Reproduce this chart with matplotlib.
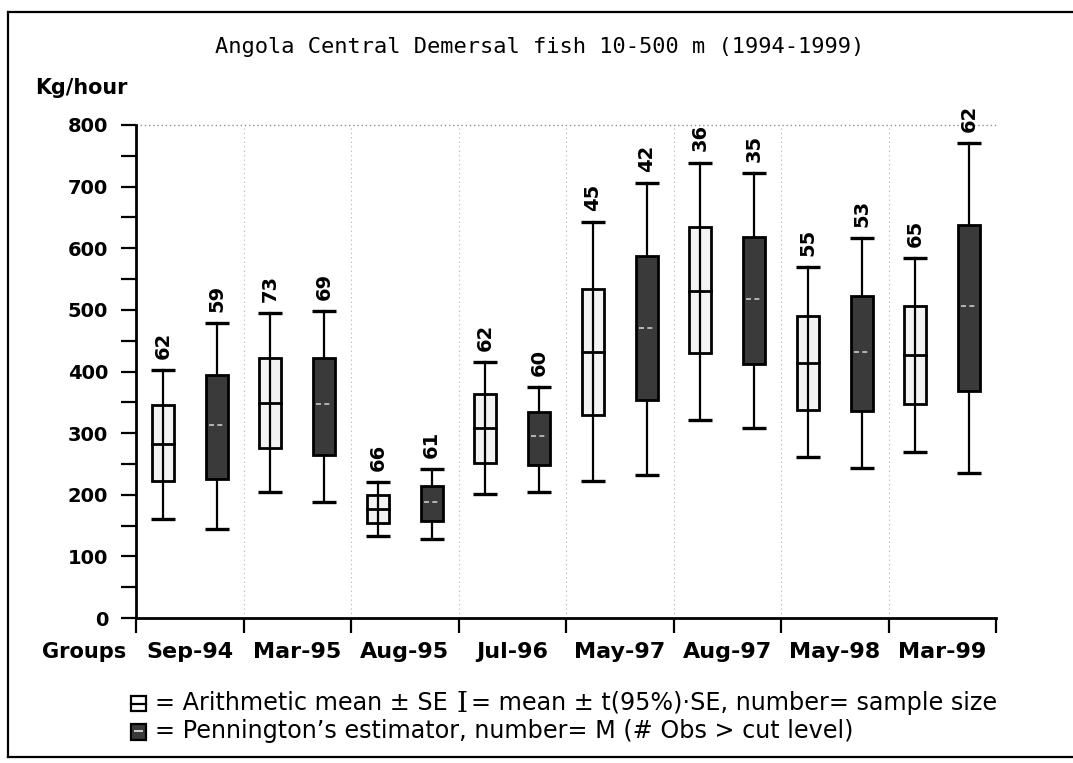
import matplotlib
matplotlib.use("Agg")
import matplotlib.pyplot as plt
from matplotlib.patches import Rectangle
from matplotlib.lines import Line2D
from matplotlib.ticker import MultipleLocator

# ---- data ----
categories = ['Sep-94', 'Mar-95', 'Aug-95', 'Jul-96', 'May-97', 'Aug-97', 'May-98', 'Mar-99']

arith_mean = [283, 349, 177, 309, 431, 531, 414, 426]
arith_se_lo = [222, 276, 154, 252, 330, 430, 338, 347]
arith_se_hi = [345, 422, 200, 364, 534, 634, 490, 507]
arith_ci_lo = [161, 204, 133, 202, 222, 322, 262, 269]
arith_ci_hi = [403, 495, 220, 416, 642, 739, 569, 584]
arith_n = [62, 73, 66, 62, 45, 36, 55, 65]

penn_mean = [313, 347, 188, 295, 470, 518, 432, 506]
penn_se_lo = [226, 265, 157, 248, 354, 412, 336, 369]
penn_se_hi = [395, 422, 215, 334, 587, 618, 523, 637]
penn_ci_lo = [145, 188, 129, 205, 232, 308, 243, 235]
penn_ci_hi = [479, 498, 241, 375, 706, 722, 617, 771]
penn_m = [59, 69, 61, 60, 42, 35, 53, 62]

title = 'Angola Central Demersal fish 10-500 m (1994-1999)'
ylabel = 'Kg/hour'
xlabel = 'Groups'
legend1a = '= Arithmetic mean \u00b1 SE'
legend1b = '= mean \u00b1 t(95%)\u00b7SE, number= sample size'
legend2 = '= Pennington\u2019s estimator, number= M (# Obs > cut level)'

W, H = 1073, 763
fig = plt.figure(figsize=(W / 100, H / 100), dpi=100)
fig.patch.set_facecolor('white')
renderer = fig.canvas.get_renderer()


def fx(px):
    return px / W


def fy(py):
    return 1 - py / H


def fit_text(s, x0, x1, y, family, weight='normal', size0=14):
    t = fig.text(fx(x0), fy(y), s, ha='left', va='center', fontsize=size0,
                 family=family, fontweight=weight)
    w = t.get_window_extent(renderer).width
    t.set_fontsize(size0 * (x1 - x0) / w)
    return t


ax = fig.add_axes([fx(136), fy(618), fx(996) - fx(136), fy(125) - fy(618)])
ax.set_xlim(0, 8)
ax.set_ylim(0, 800)

BW = 0.205
DARK = '#3a3a3a'
LIGHT = '#f3f3f3'
MONO = 'DejaVu Sans Mono'

for i in range(len(categories)):
    # arithmetic (white) box
    x = i + 0.25
    ax.plot([x, x], [arith_ci_lo[i], arith_ci_hi[i]], color='black', lw=1.6, zorder=2)
    ax.add_patch(Rectangle((x - BW / 2, arith_se_lo[i]), BW, arith_se_hi[i] - arith_se_lo[i],
                           facecolor=LIGHT, edgecolor='black', lw=2, zorder=3))
    ax.plot([x, x], [arith_se_lo[i], arith_se_hi[i]], color='black', lw=1.6, zorder=4)
    ax.plot([x - BW / 2, x + BW / 2], [arith_mean[i]] * 2, color='black', lw=2, zorder=4)
    for v in (arith_ci_lo[i], arith_ci_hi[i]):
        ax.plot([x - BW / 2 - 0.01, x + BW / 2 + 0.01], [v, v], color='black', lw=2.4,
                zorder=4, solid_capstyle='butt')
    ax.annotate(str(arith_n[i]), (x, arith_ci_hi[i]), xytext=(0, 8), textcoords='offset points',
                rotation=90, ha='center', va='bottom', fontsize=14, fontweight='bold',
                family='DejaVu Sans', zorder=5)

    # Pennington (dark) box
    x = i + 0.75
    ax.plot([x, x], [penn_ci_lo[i], penn_ci_hi[i]], color='black', lw=1.6, zorder=2)
    ax.add_patch(Rectangle((x - BW / 2, penn_se_lo[i]), BW, penn_se_hi[i] - penn_se_lo[i],
                           facecolor=DARK, edgecolor='black', lw=2, zorder=3))
    ax.plot([x - BW / 2 + 0.03, x + BW / 2 - 0.03], [penn_mean[i]] * 2, color='#c8c8c8',
            lw=1.2, ls=(0, (3, 2)), zorder=4)
    for v in (penn_ci_lo[i], penn_ci_hi[i]):
        ax.plot([x - BW / 2 - 0.01, x + BW / 2 + 0.01], [v, v], color='black', lw=2.4,
                zorder=4, solid_capstyle='butt')
    ax.annotate(str(penn_m[i]), (x, penn_ci_hi[i]), xytext=(0, 8), textcoords='offset points',
                rotation=90, ha='center', va='bottom', fontsize=14, fontweight='bold',
                family='DejaVu Sans', zorder=5)

# dotted group separators and frame
for b in range(1, len(categories) + 1):
    ax.axvline(b, color='#b0b0b0', lw=0.8, ls=(0, (1, 3)), zorder=1)
ax.axhline(800, color='#909090', lw=1.0, ls=(0, (1, 2)), zorder=1, clip_on=False)

for s in ('top', 'right'):
    ax.spines[s].set_visible(False)
ax.spines['left'].set_linewidth(2)
ax.spines['bottom'].set_linewidth(2)

ax.yaxis.set_major_locator(MultipleLocator(100))
ax.yaxis.set_minor_locator(MultipleLocator(50))
ax.set_xticks(range(len(categories) + 1))
ax.set_xticks([i + 0.5 for i in range(len(categories))], minor=True)
ax.set_xticklabels([''] * (len(categories) + 1))
ax.set_xticklabels(categories, minor=True)
ax.tick_params(axis='x', which='major', direction='out', length=11, width=1.6)
ax.tick_params(axis='x', which='minor', length=0, pad=17)
ax.tick_params(axis='y', which='both', direction='out', length=11, width=1.6, pad=9)
for lab in ax.get_yticklabels():
    lab.set_fontsize(14)
    lab.set_fontweight('bold')
    lab.set_family('DejaVu Sans')
for lab in ax.get_xticklabels(minor=True):
    lab.set_fontsize(16)
    lab.set_fontweight('bold')
    lab.set_family('DejaVu Sans')

# texts
fit_text(title, 215, 870, 47, MONO, size0=15)
fit_text(ylabel, 35, 128, 88, 'DejaVu Sans', weight='bold', size0=15)
fit_text(xlabel, 42, 127, 652, 'DejaVu Sans', weight='bold', size0=15)

# legend
y1, y2 = 703, 731
fig.add_artist(Rectangle((fx(131), fy(711)), fx(146) - fx(131), fy(696) - fy(711),
                         facecolor='white', edgecolor='black', lw=1.6, transform=fig.transFigure))
fig.add_artist(Line2D([fx(131), fx(146)], [fy(703.5)] * 2, color='black', lw=1.6,
                      transform=fig.transFigure))
fig.add_artist(Rectangle((fx(131), fy(740)), fx(146) - fx(131), fy(724) - fy(740),
                         facecolor=DARK, edgecolor='black', lw=1.6, transform=fig.transFigure))
fig.add_artist(Line2D([fx(135), fx(142)], [fy(731)] * 2, color='#d0d0d0', lw=1.4,
                      transform=fig.transFigure))

t2 = fit_text(legend2, 155, 855, y2, 'DejaVu Sans', size0=14)
lsize = t2.get_fontsize()
ta = fig.text(fx(155), fy(y1), legend1a, ha='left', va='center', fontsize=lsize,
              family='DejaVu Sans')
xa = 155 + ta.get_window_extent(renderer).width
ti = fig.text(fx(xa + 9), fy(y1 + 1), 'I', ha='left', va='center', fontsize=lsize + 3,
              family='DejaVu Serif')
xi = xa + 9 + ti.get_window_extent(renderer).width
fig.text(fx(xi + 3), fy(y1), legend1b, ha='left', va='center', fontsize=lsize,
         family='DejaVu Sans')

# outer frame
for xs, ys in (([8, 1073], [12, 12]), ([8, 8], [12, 757]), ([8, 1073], [757, 757])):
    fig.add_artist(Line2D([fx(v) for v in xs], [fy(v) for v in ys], color='black', lw=1.6,
                          transform=fig.transFigure))

fig.savefig('out.png', dpi=100, facecolor='white')
